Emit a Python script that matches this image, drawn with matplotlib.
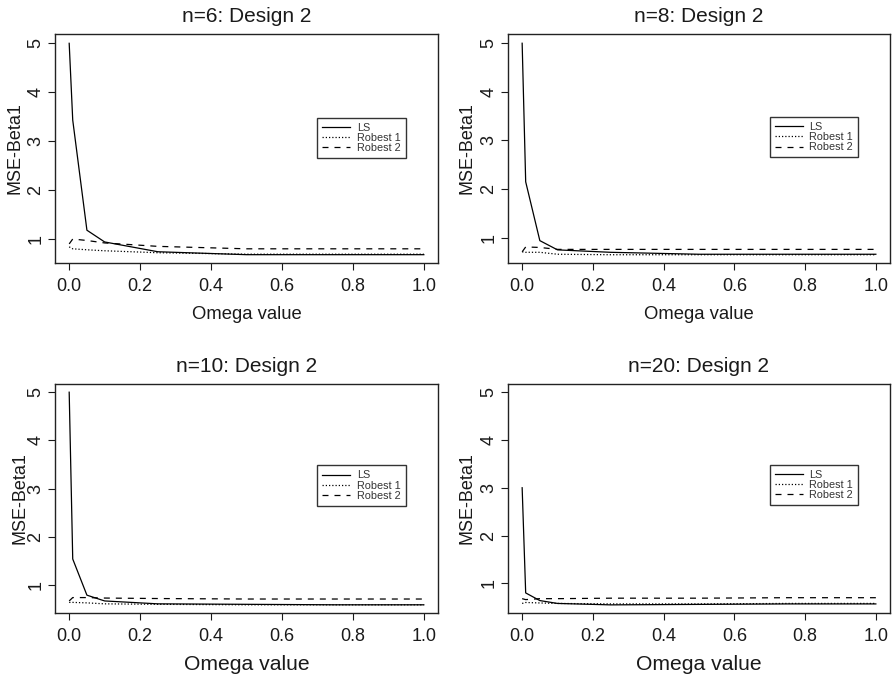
import matplotlib
matplotlib.use("Agg")
import matplotlib.pyplot as plt

plt.rcParams['font.family'] = ['Liberation Sans', 'DejaVu Sans']

omega = [0.0, 0.01, 0.05, 0.1, 0.25, 0.5, 0.75, 1.0]

titles = ["n=6: Design 2", "n=8: Design 2", "n=10: Design 2", "n=20: Design 2"]

ls_vals = [
    [5.00, 3.43, 1.18, 0.94, 0.74, 0.68, 0.68, 0.68],
    [5.00, 2.15, 0.94, 0.75, 0.70, 0.66, 0.66, 0.66],
    [5.00, 1.54, 0.79, 0.67, 0.61, 0.60, 0.59, 0.59],
    [3.00, 0.80, 0.64, 0.58, 0.55, 0.56, 0.57, 0.57],
]
rob1_vals = [
    [0.84, 0.80, 0.78, 0.76, 0.72, 0.69, 0.69, 0.69],
    [0.71, 0.70, 0.70, 0.66, 0.65, 0.65, 0.65, 0.65],
    [0.64, 0.64, 0.63, 0.61, 0.60, 0.59, 0.59, 0.59],
    [0.58, 0.60, 0.59, 0.58, 0.57, 0.57, 0.58, 0.58],
]
rob2_vals = [
    [0.90, 1.00, 0.97, 0.92, 0.85, 0.80, 0.80, 0.80],
    [0.71, 0.81, 0.80, 0.76, 0.76, 0.76, 0.76, 0.76],
    [0.67, 0.74, 0.74, 0.73, 0.72, 0.71, 0.71, 0.71],
    [0.68, 0.66, 0.68, 0.68, 0.69, 0.69, 0.70, 0.70],
]
legend_labels = ["LS", "Robest 1", "Robest 2"]
xticks = [0.0, 0.2, 0.4, 0.6, 0.8, 1.0]
xtick_labels = ["0.0", "0.2", "0.4", "0.6", "0.8", "1.0"]
yticks = [1, 2, 3, 4, 5]

W, H = 894, 678
fig = plt.figure(figsize=(W / 100, H / 100), dpi=100)

# (left, top, right, bottom) in pixels
boxes = [(55, 34, 438, 263), (508, 34, 890, 263),
         (55, 384, 438, 613), (508, 384, 890, 613)]
ylims = [(0.51, 5.19), (0.48, 5.19), (0.42, 5.17), (0.38, 5.17)]
xlabel_sizes = [13.3, 13.3, 15.2, 15.2]
xlabel_pads = [8, 8, 7, 7]
ylabel_x = [-0.082, -0.085, -0.069, -0.085]

txt = '#1a1a1a'
for i in range(4):
    l, t, r, b = boxes[i]
    ax = fig.add_axes([l / W, 1 - b / H, (r - l) / W, (b - t) / H])
    ax.plot(omega, ls_vals[i], color='black', lw=0.9, linestyle='-', label=legend_labels[0])
    ax.plot(omega, rob1_vals[i], color='black', lw=0.9, linestyle=(0, (1, 1.6)), label=legend_labels[1])
    ax.plot(omega, rob2_vals[i], color='black', lw=0.9, linestyle=(0, (4.8, 4.8)), label=legend_labels[2])
    ax.set_xlim(-0.04, 1.04)
    ax.set_ylim(*ylims[i])
    ax.set_xticks(xticks)
    ax.set_xticklabels(xtick_labels)
    ax.set_yticks(yticks)
    ax.set_yticklabels([str(v) for v in yticks], rotation=90, va='center')
    ax.tick_params(axis='x', length=5, width=0.8, pad=6, labelsize=13, colors=txt)
    ax.tick_params(axis='y', length=5, width=0.8, pad=2.5, labelsize=13, colors=txt)
    for s in ax.spines.values():
        s.set_linewidth(1.0)
        s.set_color('#222222')
    ax.set_title(titles[i], fontsize=15, pad=9, color=txt)
    ax.set_xlabel("Omega value", fontsize=xlabel_sizes[i], labelpad=xlabel_pads[i], color=txt)
    ax.set_ylabel("MSE-Beta1", fontsize=13, color=txt)
    ax.yaxis.set_label_coords(ylabel_x[i], 0.5)
    leg = ax.legend(loc='upper left', bbox_to_anchor=(0.70, 3.48),
                    bbox_transform=ax.transData, fontsize=7.8, frameon=True,
                    fancybox=False, edgecolor='#333333', framealpha=1,
                    handlelength=2.6, handletextpad=0.6, labelspacing=0.02,
                    borderpad=0.45, borderaxespad=0)
    leg.get_frame().set_linewidth(1.0)
    for tx in leg.get_texts():
        tx.set_color('#333333')

fig.savefig("out.png", dpi=100)
